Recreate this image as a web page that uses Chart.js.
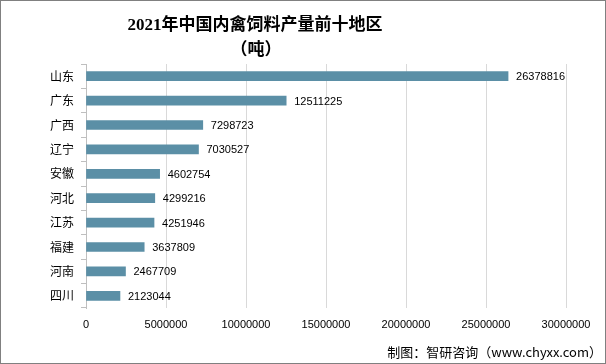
<!DOCTYPE html>
<html>
<head>
<meta charset="utf-8">
<script src="https://cdn.jsdelivr.net/npm/chart.js@4"></script>
<style>
  html, body { margin: 0; padding: 0; background: #fff; }
  #wrap { width: 606px; height: 364px; position: relative; }
</style>
</head>
<body>
<div id="wrap"><canvas id="feedChart" width="606" height="364"></canvas></div>
<script>
// 地区与产量（吨）
const regions = ["山东", "广东", "广西", "辽宁", "安徽", "河北", "江苏", "福建", "河南", "四川"];
const output = [26378816, 12511225, 7298723, 7030527, 4602754, 4299216, 4251946, 3637809, 2467709, 2123044];
const xTicks = [0, 5000000, 10000000, 15000000, 20000000, 25000000, 30000000];

const titleLines = ["2021年中国内禽饲料产量前十地区", "（吨）"];
const sourceText = "制图：智研咨询（www.chyxx.com）";

// 标题、数据标签、来源和外框
const decorPlugin = {
  id: "decor",
  afterDatasetsDraw(chart) {
    const ctx = chart.ctx;
    const meta = chart.getDatasetMeta(0);
    ctx.save();
    ctx.fillStyle = "#000";
    ctx.font = "11px 'Liberation Sans', sans-serif";
    ctx.textAlign = "left";
    ctx.textBaseline = "middle";
    meta.data.forEach((bar, i) => {
      ctx.fillText(String(output[i]), bar.x + 8, bar.y + 1);
    });
    ctx.restore();
  },
  afterDraw(chart) {
    const ctx = chart.ctx;
    ctx.save();
    ctx.fillStyle = "#000";
    ctx.textAlign = "center";
    ctx.textBaseline = "middle";
    ctx.font = "bold 17px 'Liberation Serif', 'Noto Sans CJK SC', serif";
    ctx.fillText(titleLines[0], 255, 26);
    ctx.fillText(titleLines[1], 256, 51);

    ctx.font = "13px 'Noto Sans CJK SC', sans-serif";
    ctx.textAlign = "right";
    ctx.fillText(sourceText, 602, 352);

    ctx.strokeStyle = "#808080";
    ctx.lineWidth = 1;
    ctx.strokeRect(0.5, 0.5, 605, 363);
    ctx.restore();
  }
};

new Chart(document.getElementById("feedChart"), {
  type: "bar",
  data: {
    labels: regions,
    datasets: [{
      data: output,
      backgroundColor: "#5b8fa6",
      barThickness: 9
    }]
  },
  options: {
    indexAxis: "y",
    responsive: false,
    animation: false,
    layout: { padding: { top: 64, right: 40, bottom: 26, left: 0 } },
    plugins: {
      legend: { display: false },
      title: { display: false },
      tooltip: { enabled: false }
    },
    scales: {
      x: {
        min: 0,
        max: 30000000,
        afterBuildTicks: scale => { scale.ticks = xTicks.map(v => ({ value: v })); },
        afterFit: scale => { scale.height = 30; },
        grid: { color: "#d9d9d9", tickLength: 0, drawTicks: false },
        border: { display: false },
        ticks: {
          color: "#000",
          padding: 10,
          maxRotation: 0,
          font: { family: "'Liberation Sans', sans-serif", size: 11 },
          callback: v => String(v)
        }
      },
      y: {
        afterFit: scale => { scale.width = 86; },
        grid: {
          offset: true,
          drawOnChartArea: false,
          tickLength: 5,
          color: "#bfbfbf"
        },
        border: { display: true, color: "#bfbfbf" },
        ticks: {
          color: "#000",
          padding: 7,
          font: { family: "'Noto Sans CJK SC', sans-serif", size: 12 }
        }
      }
    }
  },
  plugins: [decorPlugin]
});
</script>
</body>
</html>
